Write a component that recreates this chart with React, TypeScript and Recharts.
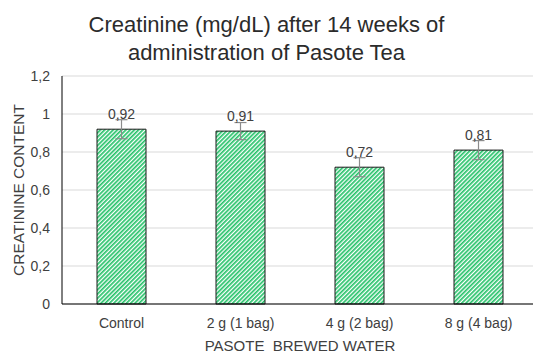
import React from 'react';
import { BarChart, Bar, XAxis, YAxis, CartesianGrid, ErrorBar, LabelList } from 'recharts';

const groups = ['Control', '2 g (1 bag)', '4 g (2 bag)', '8 g (4 bag)'];
const creatinine = [0.92, 0.91, 0.72, 0.81];
const deviation = [0.05, 0.045, 0.05, 0.05];
const yTicks = [0, 0.2, 0.4, 0.6, 0.8, 1, 1.2];

const FONT = '"Liberation Sans", Arial, sans-serif';
const GREEN = '#27c26a';
const TEXT = '#404040';

const data = groups.map((g, i) => ({ group: g, value: creatinine[i], err: deviation[i] }));

const comma = (v: number) => String(v).replace('.', ',');

export default function App() {
  return (
    <div style={{ position: 'absolute', left: 0, top: 0, width: 533, height: 354, overflow: 'hidden', background: '#fff', fontFamily: FONT }}>
      <div style={{ position: 'absolute', left: 0, top: 11, width: 533, textAlign: 'center', fontSize: 22, lineHeight: '28px', color: '#2b2b2b' }}>
        Creatinine (mg/dL) after 14 weeks of
        <br />
        administration of Pasote Tea
      </div>
      <BarChart
        width={545}
        height={354}
        data={data}
        margin={{ top: 76, right: 7, bottom: 0, left: 0 }}
        barSize={49}
      >
        <defs>
          <pattern id="hatch" patternUnits="userSpaceOnUse" width={3} height={3} patternTransform="rotate(45)">
            <rect width={3} height={3} fill="#fff" />
            <rect width={1.7} height={3} fill={GREEN} />
          </pattern>
        </defs>
        <CartesianGrid vertical={false} stroke="#d9d9d9" />
        <XAxis
          dataKey="group"
          height={50}
          axisLine={{ stroke: '#000' }}
          tickLine={false}
          tickMargin={8}
          tick={{ fill: TEXT, fontSize: 14, fontFamily: FONT }}
          label={{ value: 'PASOTE\u00a0\u00a0BREWED WATER', position: 'insideBottom', offset: 3, fill: TEXT, fontSize: 15, fontFamily: FONT }}
        />
        <YAxis
          width={62}
          domain={[0, 1.2]}
          ticks={yTicks}
          axisLine={{ stroke: '#000' }}
          tickLine={false}
          tickMargin={6}
          tickFormatter={comma}
          tick={{ fill: TEXT, fontSize: 14, fontFamily: FONT }}
          label={{ value: 'CREATININE CONTENT', angle: -90, position: 'center', dx: -13, fill: TEXT, fontSize: 15.5, fontFamily: FONT }}
        />
        <Bar dataKey="value" fill="url(#hatch)" stroke="#1a1a1a" strokeWidth={1} isAnimationActive={false}>
          <ErrorBar dataKey="err" width={6} stroke="#8c8c8c" strokeWidth={1.2} direction="y" />
          <LabelList dataKey="value" position="top" offset={10} formatter={(v: number) => comma(v)} fill={TEXT} fontSize={14} fontFamily={FONT} />
        </Bar>
      </BarChart>
    </div>
  );
}
